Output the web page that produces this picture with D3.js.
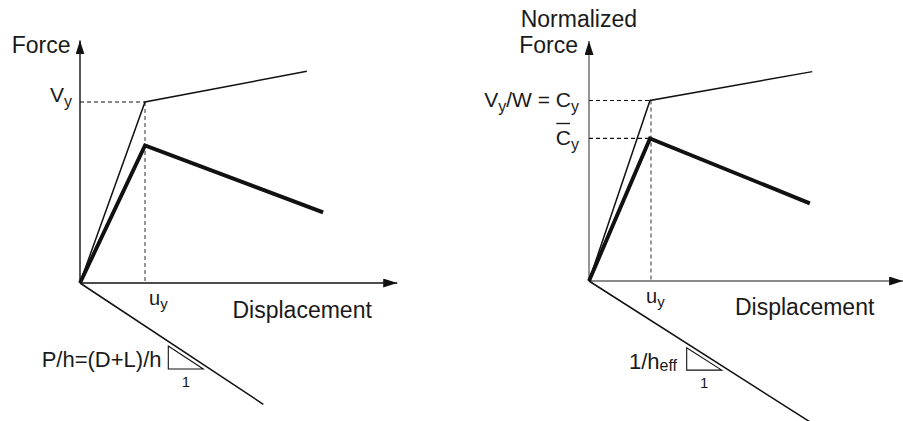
<!DOCTYPE html>
<html>
<head>
<meta charset="utf-8">
<script src="https://cdn.jsdelivr.net/npm/d3@7"></script>
<style>
  body { margin: 0; background: #fff; }
  text { font-family: "Liberation Sans", Arial, Helvetica, sans-serif; fill: #1a1a1a; }
</style>
</head>
<body>
<svg id="chart" width="903" height="421"></svg>
<script>
// Idealised pushover curves. Displacement is in units of u_y, force in units of V_y (or C_y).
// Left: force vs displacement; right: normalized force vs displacement.
const leftBilinear   = [[0, 0], [1, 1], [3.49, 1.17]];
const leftDegrading  = [[0, 0], [1, 0.76], [3.74, 0.39]];
const leftPDelta     = [[0, 0], [2.82, -0.67]];

const rightBilinear  = [[0, 0], [1, 1], [3.66, 1.16]];
const rightDegrading = [[0, 0], [1, 0.79], [3.62, 0.43]];
const rightPDelta    = [[0, 0], [3.62, -0.78]];

// Reference levels marked with dashed guides
const leftLevels  = [1];          // V_y
const rightLevels = [1, 0.79];    // C_y and C̄_y
const yieldDisp   = 1;            // u_y

const svg = d3.select("#chart");

svg.append("defs").append("marker")
  .attr("id", "arrow")
  .attr("markerUnits", "userSpaceOnUse")
  .attr("markerWidth", 15).attr("markerHeight", 10)
  .attr("refX", 14).attr("refY", 4.5)
  .attr("orient", "auto")
  .append("path")
  .attr("d", "M0,0 L14,4.5 L0,9 Z")
  .attr("fill", "#111");

const line = d3.line().x(d => d[0]).y(d => d[1]);

function drawPanel(cfg) {
  const x = d3.scaleLinear().domain([0, 1]).range(cfg.xRange);
  const y = d3.scaleLinear().domain([0, 1]).range(cfg.yRange);
  const g = svg.append("g");
  const px = pts => pts.map(p => [x(p[0]), y(p[1])]);

  // axes with arrow heads
  g.append("line")
    .attr("x1", x(0)).attr("y1", y(0))
    .attr("x2", x(cfg.xMax)).attr("y2", y(0))
    .attr("stroke", cfg.axisColor).attr("stroke-width", 1.4)
    .attr("marker-end", "url(#arrow)");
  g.append("line")
    .attr("x1", x(0)).attr("y1", y(0))
    .attr("x2", x(0)).attr("y2", y(cfg.yMax))
    .attr("stroke", cfg.axisColor).attr("stroke-width", 1.4)
    .attr("marker-end", "url(#arrow)");

  // dashed guides
  cfg.levels.forEach(v => {
    g.append("line")
      .attr("x1", x(0)).attr("y1", y(v))
      .attr("x2", x(yieldDisp)).attr("y2", y(v))
      .attr("stroke", "#111").attr("stroke-width", 1.1)
      .attr("stroke-dasharray", "4,3");
  });
  g.append("line")
    .attr("x1", x(yieldDisp) + cfg.vDashShift).attr("y1", y(cfg.levels[0]))
    .attr("x2", x(yieldDisp) + cfg.vDashShift).attr("y2", y(0))
    .attr("stroke", "#444").attr("stroke-width", 1.1)
    .attr("stroke-dasharray", "4,3");

  // curves
  g.append("path").attr("d", line(px(cfg.bilinear)))
    .attr("fill", "none").attr("stroke", "#111").attr("stroke-width", 1.5)
    .attr("stroke-linejoin", "miter");
  g.append("path").attr("d", line(px(cfg.degrading)))
    .attr("fill", "none").attr("stroke", "#111").attr("stroke-width", 3.9)
    .attr("stroke-linejoin", "miter");
  g.append("path").attr("d", line(px(cfg.pdelta)))
    .attr("fill", "none").attr("stroke", "#111").attr("stroke-width", 1.5);

  // slope triangle hanging under the P-delta line
  const p0 = px(cfg.pdelta)[0], p1 = px(cfg.pdelta)[1];
  const slope = (p1[1] - p0[1]) / (p1[0] - p0[0]);
  const tx = cfg.triX, ty = p0[1] + slope * (tx - p0[0]) + 4.5, tw = 35, th = slope * tw;
  g.append("path")
    .attr("d", `M${tx},${ty} L${tx},${ty + th} L${tx + tw},${ty + th} Z`)
    .attr("fill", "none").attr("stroke", "#111").attr("stroke-width", 1.1);
  g.append("text").attr("x", tx + tw / 2).attr("y", ty + th + 18)
    .attr("text-anchor", "middle").attr("font-size", 15).text("1");

  return { g, x, y, tx, ty, th };
}

function subText(g, xPos, yPos, anchor, size, parts) {
  const t = g.append("text").attr("x", xPos).attr("y", yPos)
    .attr("text-anchor", anchor).attr("font-size", size);
  parts.forEach(p => {
    const s = t.append("tspan").text(p.t);
    if (p.sub) s.attr("font-size", p.size || 14).attr("dy", p.dy);
    if (p.up) s.attr("dy", -p.up);
  });
  return t;
}

// ---- left panel ----
const L = drawPanel({
  xRange: [80, 145], yRange: [283, 102], xMax: 4.88, yMax: 1.34,
  axisColor: "#111", levels: leftLevels, vDashShift: 0,
  bilinear: leftBilinear, degrading: leftDegrading, pdelta: leftPDelta, triX: 168.3
});
L.g.append("text").attr("x", 70.5).attr("y", 53).attr("text-anchor", "end")
  .attr("font-size", 23).text("Force");
subText(L.g, 72, 101.5, "end", 21, [{ t: "V" }, { t: "y", sub: true, dy: 5, size: 16 }]);
subText(L.g, 149, 305, "start", 20, [{ t: "u" }, { t: "y", sub: true, dy: 4, size: 15 }]);
L.g.append("text").attr("x", 232.5).attr("y", 318).attr("font-size", 23).text("Displacement");
L.g.append("text").attr("x", 161.5).attr("y", 366.5).attr("text-anchor", "end")
  .attr("font-size", 22).text("P/h=(D+L)/h");

// ---- right panel ----
const R = drawPanel({
  xRange: [589, 650], yRange: [281, 100.5], xMax: 5.15, yMax: 1.33,
  axisColor: "#666", levels: rightLevels, vDashShift: 1,
  bilinear: rightBilinear, degrading: rightDegrading, pdelta: rightPDelta, triX: 686.7
});
R.g.append("text").attr("x", 637).attr("y", 27).attr("text-anchor", "end")
  .attr("font-size", 23).text("Normalized");
R.g.append("text").attr("x", 578).attr("y", 53).attr("text-anchor", "end")
  .attr("font-size", 23).text("Force");
subText(R.g, 579, 107, "end", 21, [
  { t: "V" }, { t: "y", sub: true, dy: 5, size: 16 }, { t: "/W = C", up: 5 },
  { t: "y", sub: true, dy: 5, size: 16 }
]);
const cbar = subText(R.g, 579, 145, "end", 21, [{ t: "C" }, { t: "y", sub: true, dy: 5, size: 16 }]);
// overbar across the C of C̄_y
const n = cbar.node();
const c0 = n.getStartPositionOfChar(0).x, c1 = n.getEndPositionOfChar(0).x;
R.g.append("line").attr("x1", c0 + 0.5).attr("x2", c1 - 1)
  .attr("y1", 123.5).attr("y2", 123.5)
  .attr("stroke", "#1a1a1a").attr("stroke-width", 1.4);
subText(R.g, 646, 303, "start", 20, [{ t: "u" }, { t: "y", sub: true, dy: 4, size: 15 }]);
R.g.append("text").attr("x", 735).attr("y", 315).attr("font-size", 23).text("Displacement");
subText(R.g, 677, 368.5, "end", 22, [{ t: "1/h" }, { t: "eff", sub: true, dy: 2.5, size: 16 }]);
</script>
</body>
</html>
